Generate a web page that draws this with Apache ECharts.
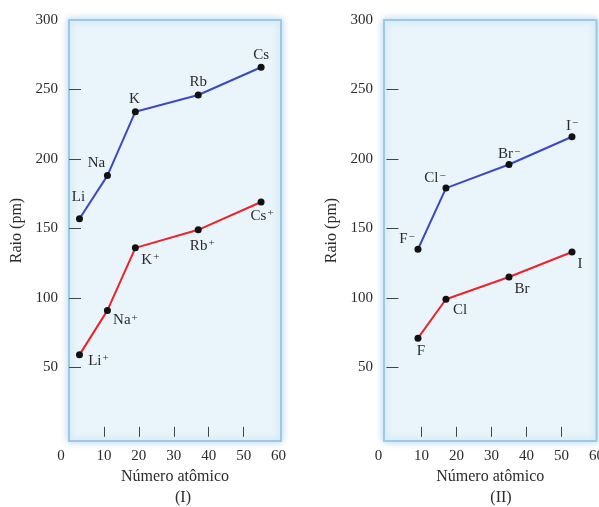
<!DOCTYPE html>
<html lang="pt">

<head>
  <meta charset="UTF-8">
  <title>Raio atômico e iônico</title>
  <style>
    html, body { margin: 0; padding: 0; background: #fff; }
  </style>
</head>

<body>
  <div id="main" style="width: 599px;height: 507px;"></div>
</body>
<script src="https://cdn.jsdelivr.net/npm/echarts@6/dist/echarts.min.js"></script>
<script>
  // painel (I): metais alcalinos e seus cátions
  var alkaliZ = [3, 11, 19, 37, 55];
  var alkaliNames = ['Li', 'Na', 'K', 'Rb', 'Cs'];
  var alkaliAtom = [157, 188, 234, 246, 266];
  var alkaliIonNames = ['Li+', 'Na+', 'K+', 'Rb+', 'Cs+'];
  var alkaliIon = [59, 91, 136, 149, 169];

  // painel (II): halogênios e seus ânions
  var halogenZ = [9, 17, 35, 53];
  var halogenIonNames = ['F-', 'Cl-', 'Br-', 'I-'];
  var halogenIon = [135, 179, 196, 216];
  var halogenNames = ['F', 'Cl', 'Br', 'I'];
  var halogenAtom = [71, 99, 115, 133];

  var xTickLabels = [0, 10, 20, 30, 40, 50, 60];
  var yTickLabels = [50, 100, 150, 200, 250, 300];

  var chartDom = document.getElementById('main');
  var myChart = echarts.init(chartDom);
  var option;

  var serif = 'Liberation Serif';
  var txt = '#2b2b2b';
  var blue = '#3d49c2';
  var red = '#ee2228';

  // label offsets (relative to the point), kept apart from the data
  var offAlkAtom = [[-1, -22], [-11, -13], [-1, -13], [0, -13], [0, -12]];
  var offAlkIon = [[19, 6], [18, 10], [15, 12], [4, 16], [1, 14]];
  var offHalIon = [[-11, -10], [-11, -10], [0, -10], [0, -11]];
  var offHalAtom = [[3, 13], [14, 11], [13, 12], [8, 12]];

  function sup(name) {
    var last = name.charAt(name.length - 1);
    if (last === '+' || last === '-') {
      return '{b|' + name.slice(0, -1) + '}{s|' + (last === '+' ? '+' : '\u2212') + '}';
    }
    return '{b|' + name + '}';
  }

  function points(zs, vals, names, offs) {
    return zs.map(function (z, i) {
      return {
        value: [z, vals[i]],
        name: names[i],
        label: { offset: offs[i] }
      };
    });
  }

  function lineSeries(idx, color, data) {
    return {
      type: 'line',
      xAxisIndex: idx,
      yAxisIndex: idx,
      data: data,
      symbol: 'circle',
      symbolSize: 7,
      itemStyle: { color: '#111' },
      lineStyle: { color: color, width: 2 },
      z: 3,
      label: {
        show: true,
        position: 'inside',
        formatter: function (p) { return sup(p.name); },
        rich: {
          b: { fontFamily: serif, fontSize: 15, color: txt, lineHeight: 16 },
          s: { fontFamily: serif, fontSize: 11, color: txt, verticalAlign: 'top', lineHeight: 16, padding: [0, 0, 6, 1] }
        }
      },
      animation: false
    };
  }

  function xAxis(idx, min, max) {
    return {
      gridIndex: idx,
      type: 'value',
      min: min,
      max: max,
      name: 'Número atômico',
      nameLocation: 'middle',
      nameGap: 24,
      nameTextStyle: { fontFamily: serif, fontSize: 16, color: txt },
      axisLine: { show: false },
      axisTick: { show: true, inside: true, length: 10, customValues: [10, 20, 30, 40, 50], lineStyle: { color: '#444', width: 1 } },
      axisLabel: {
        customValues: xTickLabels,
        margin: 8,
        fontFamily: serif,
        fontSize: 15,
        color: txt,
        formatter: function (v) { return v === 0 ? '{z|0}' : String(v); },
        rich: { z: { fontFamily: serif, fontSize: 15, color: txt, padding: [0, 16, 0, 0] } }
      },
      splitLine: { show: false }
    };
  }

  function yAxis(idx) {
    return {
      gridIndex: idx,
      type: 'value',
      min: -3,
      max: 300,
      name: 'Raio (pm)',
      nameLocation: 'middle',
      nameRotate: 90,
      nameGap: 44,
      nameTextStyle: { fontFamily: serif, fontSize: 16, color: txt },
      axisLine: { show: false },
      axisTick: { show: true, inside: true, length: 12, customValues: [50, 100, 150, 200, 250], lineStyle: { color: '#444', width: 1 } },
      axisLabel: { customValues: yTickLabels, margin: 11, fontFamily: serif, fontSize: 15, color: txt },
      splitLine: { show: false }
    };
  }

  var gridStyle = {
    show: true,
    outerBoundsMode: 'none',
    containLabel: false,
    backgroundColor: '#e9f5fa',
    borderColor: '#9cc8ea',
    borderWidth: 2,
    shadowColor: 'rgba(160, 205, 235, 0.8)',
    shadowBlur: 7,
    top: 20,
    height: 421
  };

  option = {
    backgroundColor: '#ffffff',
    grid: [
      Object.assign({ left: 69, width: 212 }, gridStyle),
      Object.assign({ left: 384, width: 212.5 }, gridStyle)
    ],
    xAxis: [xAxis(0, 0, 60.7), xAxis(1, -0.7, 60)],
    yAxis: [yAxis(0), yAxis(1)],
    series: [
      lineSeries(0, blue, points(alkaliZ, alkaliAtom, alkaliNames, offAlkAtom)),
      lineSeries(0, red, points(alkaliZ, alkaliIon, alkaliIonNames, offAlkIon)),
      lineSeries(1, blue, points(halogenZ, halogenIon, halogenIonNames, offHalIon)),
      lineSeries(1, red, points(halogenZ, halogenAtom, halogenNames, offHalAtom))
    ],
    graphic: [
      { type: 'text', x: 183, y: 498, style: { text: '(I)', font: '16px "Liberation Serif"', fill: txt, align: 'center', verticalAlign: 'middle' } },
      { type: 'text', x: 501, y: 498, style: { text: '(II)', font: '16px "Liberation Serif"', fill: txt, align: 'center', verticalAlign: 'middle' } }
    ],
    animation: false
  };

  option && myChart.setOption(option);
</script>

</html>
